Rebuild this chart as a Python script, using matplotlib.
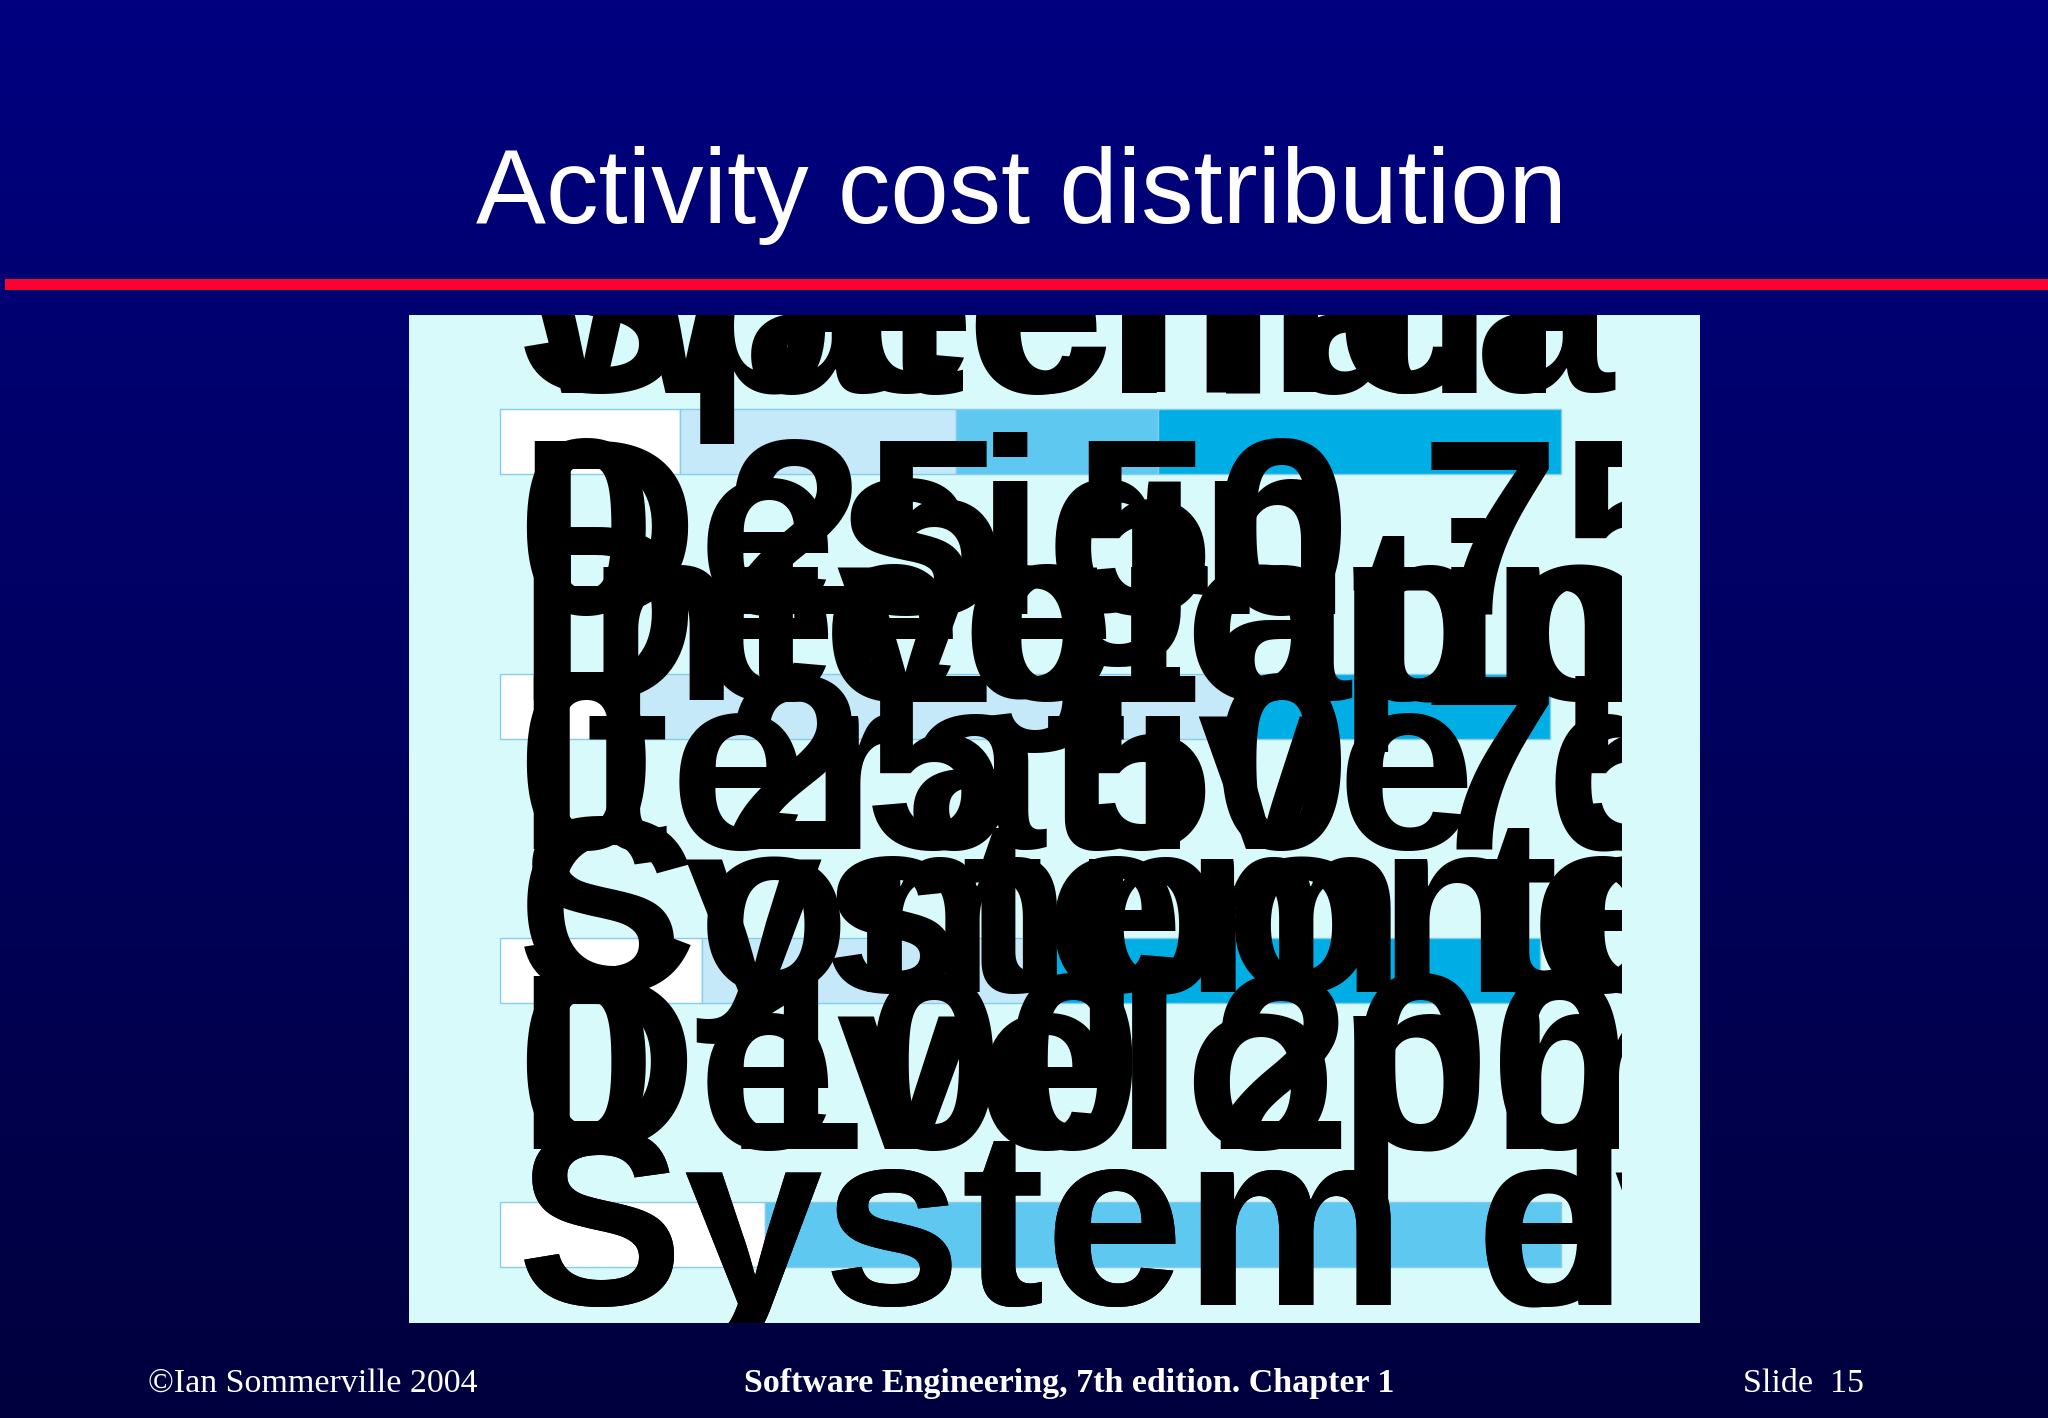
import numpy as np
import matplotlib
matplotlib.use('Agg')
import matplotlib.pyplot as plt

# Stacked cost shares (percent) for the three process models
waterfall = [17, 26, 19, 38]
waterfall_parts = ['Specification', 'Design', 'Development', 'Integration and testing']
iterative = [10, 61, 28]
iterative_parts = ['Specification', 'Iterative development', 'System testing']
cbse = [19, 33, 46]
cbse_parts = ['Specification', 'Development', 'Integration and testing']
# Long-lifetime systems, cost units on a 0-400 scale
lifetime = [100, 300]
lifetime_parts = ['System development', 'System evolution']

categories = ['Waterfall model', 'Iterative development',
              'Component-based software engineering',
              'Development and evolution costs for long-lifetime systems']
pct_ticks = ['0', '25', '50', '75', '100']
cost_ticks = ['0', '100', '200', '300', '400']

# figure is laid out in pixel units of the 2048x1418 slide
W, H = 2048, 1418
fig = plt.figure(figsize=(W / 100, H / 100), dpi=100)

# slide background: navy gradient
bg = fig.add_axes([0, 0, 1, 1])
grad = np.linspace(0, 1, 256).reshape(-1, 1)
cmap = matplotlib.colors.LinearSegmentedColormap.from_list('slide', ['#000080', '#00003e'])
bg.imshow(grad, aspect='auto', cmap=cmap, extent=[0, W, H, 0])
bg.set_xlim(0, W)
bg.set_ylim(H, 0)
bg.axis('off')
bg.fill_between([5, W], 279, 290, color='#ff0033', lw=0)

bg.text(1021, 223, 'Activity cost distribution', color='white', fontsize=75.5,
        family='Liberation Sans', ha='center', va='baseline')

bg.text(148, 1392, '\u00a9Ian Sommerville 2004', color='white', fontsize=24.5,
        family='Liberation Serif', ha='left', va='baseline')
bg.text(1069, 1392, 'Software Engineering, 7th edition. Chapter 1', color='white',
        fontsize=24.5, family='Liberation Serif', weight='bold', ha='center', va='baseline')
bg.text(1743, 1392, 'Slide  15', color='white', fontsize=24.5,
        family='Liberation Serif', ha='left', va='baseline')

# chart panel
px0, px1, py0, py1 = 409, 1700, 315, 1323
ax = fig.add_axes([px0 / W, 1 - py1 / H, (px1 - px0) / W, (py1 - py0) / H])
ax.set_facecolor('#d8fafa')
ax.set_xlim(-8.58, 113.1)
ax.set_ylim(3.333, -0.480)
ax.set_xticks([])
ax.set_yticks([])
for s in ax.spines.values():
    s.set_visible(False)

edge = '#86ccec'
bh = 0.246
colors4 = ['#ffffff', '#c6e9f9', '#5fc8f0', '#00aee6']
colors3 = ['#ffffff', '#c6e9f9', '#00aee6']


def stack(a, row, vals, cols):
    left = 0
    for v, c in zip(vals, cols):
        a.barh(row, v, left=left, height=bh, color=c, edgecolor=edge, linewidth=1)
        left += v


stack(ax, 0, waterfall, colors4)
stack(ax, 1, iterative, colors3)
stack(ax, 2, cbse, colors3)

ax2 = ax.twiny()
ax2.set_xlim(np.array(ax.get_xlim()) * 4)
stack(ax2, 3, lifetime, ['#ffffff', '#5fc8f0'])
ax2.axis('off')

# the slide's labels, rendered oversized and clipped to the panel
tx = fig.add_axes([px0 / W, 1 - py1 / H, (1622 - px0) / W, (py1 - py0) / H])
tx.set_xlim(px0, 1622)
tx.set_ylim(py1, py0)
tx.patch.set_alpha(0)
tx.axis('off')

rows = [
    (392, [categories[0], waterfall_parts[0]]),
    (614, [' '.join(pct_ticks), waterfall_parts[1]]),
    (700, [waterfall_parts[2], waterfall_parts[3]]),
    (849, [categories[1], ' '.join(pct_ticks)]),
    (992, [categories[2], iterative_parts[2]]),
    (1149, [categories[3], ' '.join(cost_ticks)]),
    (1305, [lifetime_parts[0], lifetime_parts[1]]),
]
for yb, labels in rows:
    for lab in labels:
        tx.text(517, yb, lab, color='black', fontsize=180, family='Liberation Sans',
                weight='bold', ha='left', va='baseline', clip_on=True)

fig.savefig('out.png', dpi=100)
